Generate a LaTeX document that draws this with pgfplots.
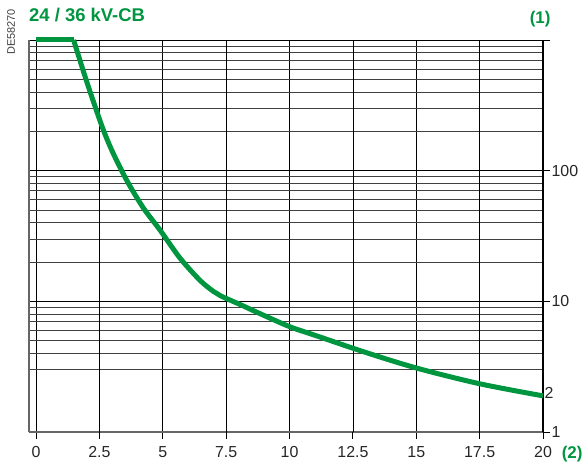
\documentclass[border=0pt]{standalone}
\usepackage{pgfplots}
\pgfplotsset{compat=1.18}
\usepackage{fontspec}
\setmainfont{Liberation Sans}
\definecolor{sgreen}{RGB}{0,150,64}

\pgfplotstableread{
x y
0 1000
1.48 1000
}\flat

\pgfplotstableread{
x y
1.48 1000
2.0 478.6
2.59 221.3
3.0 141.3
3.58 84.1
4.23 51.9
4.89 35.1
5.68 21.4
6.47 14.45
7.0 11.9
7.3 10.96
8.0 9.55
8.84 8.04
10.02 6.38
11.0 5.50
12.91 4.12
15.0 3.09
17.5 2.34
20 1.89
}\curve

\begin{document}
\begin{tikzpicture}
\begin{axis}[
  name=ax,
  scale only axis, width=514bp, height=392bp,
  xmin=-0.28, xmax=20, ymin=1, ymax=1000, ymode=log,
  axis x line*=bottom, axis y line*=right,
  axis line style={-},
  x axis line style={black!60, line width=1.2bp},
  y axis line style={black, line width=1.5bp},
  xtick={0,5,10,15,20},
  extra x ticks={2.5,7.5,12.5,17.5},
  extra x tick style={grid style={black!50, line width=1.3bp}},
  xmajorgrids,
  major grid style={black, line width=0.8bp},
  minor grid style={black!75, line width=0.9bp},
  ytick={1,10,100,1000}, yticklabels={1,10,100,{}},
  extra y ticks={2}, extra y tick labels={2},
  extra y tick style={major tick length=0pt, grid=none},
  minor ytick={3,4,5,6,7,8,9,20,30,40,50,60,70,80,90,200,300,400,500,600,700,800,900},
  ymajorgrids, yminorgrids,
  minor tick length=0pt,
  major tick length=7bp,
  tick align=outside,
  tick style={black, line width=0.9bp},
  tick label style={font=\fontsize{16}{16}\selectfont, text=black!85},
  xticklabel style={yshift=-4bp},
  yticklabel style={xshift=-2bp},
  /pgf/number format/assume math mode=true,
  clip=false,
]
\draw[black!60, line width=1.2bp] (rel axis cs:0,0) -- (rel axis cs:0,1);
\addplot[sgreen, line width=5bp, line join=round] table[x=x, y=y] {\flat};
\addplot[sgreen, line width=5bp, line join=round, smooth, tension=0.5] table[x=x, y=y] {\curve};
\end{axis}
\node[anchor=base west, inner sep=0, font=\bfseries\fontsize{18.5}{18.5}\selectfont, text=sgreen] at (0bp,410.3bp) {24 / 36 kV-CB};
\node[anchor=base east, inner sep=0, font=\bfseries\fontsize{17}{17}\selectfont, text=sgreen] at (521.7bp,408bp) {(1)};
\node[anchor=base east, inner sep=0, font=\bfseries\fontsize{17}{17}\selectfont, text=sgreen] at (553.7bp,-26.3bp) {(2)};
\node[rotate=90, inner sep=0, font=\fontsize{11}{11}\selectfont, text=black!75] at (-18bp,400bp) {DE58270};
\pgfresetboundingbox
\path (-29bp,-34bp) rectangle (556bp,432bp);
\end{tikzpicture}
\end{document}
